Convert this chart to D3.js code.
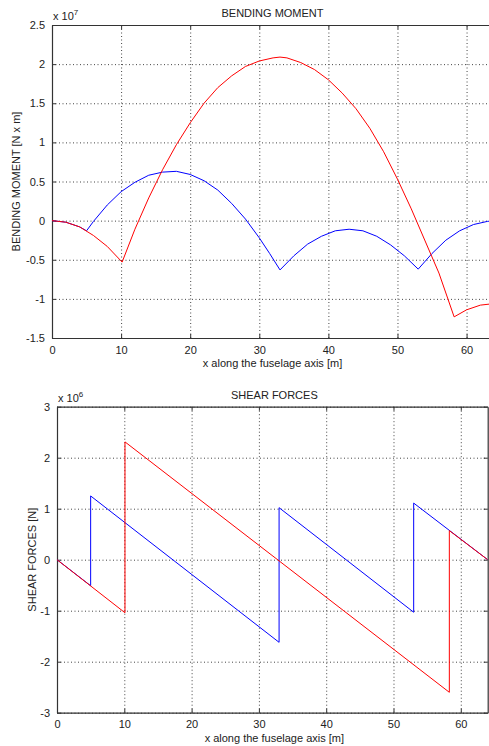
<html>
<head>
    <script src="https://d3js.org/d3.v7.min.js"></script>
    <style>
        body { margin: 0; background: white; }
        text { font-family: "Liberation Sans", Arial, sans-serif; fill: #222; }
        .grid line { stroke: #444; stroke-dasharray: 1,2.5; stroke-width: 1; }
        .grid .domain { stroke: none; }
        .ax .domain { stroke: #333; stroke-width: 1.2; }
        .ax line { stroke: #333; }
        .ax text { font-size: 11px; fill: #222; }
    </style>
</head>
<body>
    <svg id="plot" width="489" height="746"></svg>
    <script>
        // bending moment, x in m, value in 1e7 N x m
        const bendRed = [[0, 0], [2, -0.02], [4, -0.08], [6, -0.19], [8, -0.33], [10.15, -0.53], [12, -0.11],
            [14, 0.29], [16, 0.65], [18, 0.97], [20, 1.25], [22, 1.5], [24, 1.7], [26, 1.85], [28, 1.97], [30, 2.04],
            [32, 2.08], [33, 2.09], [34, 2.08], [36, 2.02], [38, 1.93], [40, 1.8], [42, 1.63], [44, 1.43], [46, 1.18],
            [48, 0.88], [50, 0.53], [52, 0.15], [54, -0.26], [56, -0.67], [58.2, -1.23], [60, -1.14], [62, -1.08],
            [64, -1.06]];
        const bendBlue = [[0, 0], [2, -0.02], [4, -0.08], [5, -0.13], [6, -0.01], [8, 0.2], [10, 0.37], [12, 0.49],
            [14, 0.58], [16, 0.62], [18, 0.63], [20, 0.59], [22, 0.51], [24, 0.39], [26, 0.22], [28, 0.02],
            [30, -0.22], [31.5, -0.42], [33, -0.63], [35, -0.45], [37, -0.3], [39, -0.2], [41, -0.13], [43, -0.11],
            [45, -0.13], [47, -0.2], [49, -0.31], [51, -0.45], [53, -0.62], [55, -0.42], [57, -0.25], [59, -0.13],
            [61, -0.05], [63, -0.01], [64, 0]];

        // shear forces, value in 1e6 N
        const shearRed = [[0, 0], [10.1, -1.04], [10.1, 2.31], [58.3, -2.6], [58.3, 0.57], [64, 0]];
        const shearBlue = [[0, 0], [5, -0.51], [5, 1.25], [33, -1.62], [33, 1.02], [53, -1.03], [53, 1.11], [64, 0]];

        const xTicks = [0, 10, 20, 30, 40, 50, 60];
        const bendTicks = [-1.5, -1, -0.5, 0, 0.5, 1, 1.5, 2, 2.5];
        const shearTicks = [-3, -2, -1, 0, 1, 2, 3];

        const svg = d3.select("#plot");

        function drawPanel(cfg) {
            const x = d3.scaleLinear().domain([0, 64]).range([cfg.left, cfg.right]);
            const y = d3.scaleLinear().domain(cfg.yDomain).range([cfg.bottom, cfg.top]);
            const w = cfg.right - cfg.left;
            const h = cfg.bottom - cfg.top;
            const g = svg.append("g");

            const clipId = "clip" + cfg.id;
            g.append("clipPath").attr("id", clipId).append("rect")
                .attr("x", cfg.left).attr("y", cfg.top).attr("width", w).attr("height", h);

            // dotted grid
            g.append("g").attr("class", "grid").attr("transform", `translate(0,${cfg.bottom})`)
                .call(d3.axisBottom(x).tickValues(xTicks.filter(d => d > 0)).tickSize(-h).tickFormat(""));
            g.append("g").attr("class", "grid").attr("transform", `translate(${cfg.left},0)`)
                .call(d3.axisLeft(y).tickValues(cfg.yTicks).tickSize(-w).tickFormat(""));

            const fmt = d => String(d);
            g.append("g").attr("class", "ax").attr("transform", `translate(0,${cfg.bottom})`)
                .call(d3.axisBottom(x).tickValues(xTicks).tickSizeInner(-4).tickSizeOuter(0).tickPadding(8).tickFormat(fmt));
            g.append("g").attr("class", "ax").attr("transform", `translate(0,${cfg.top})`)
                .call(d3.axisTop(x).tickValues(xTicks).tickSizeInner(-4).tickSizeOuter(0).tickFormat(""));
            g.append("g").attr("class", "ax").attr("transform", `translate(${cfg.left},0)`)
                .call(d3.axisLeft(y).tickValues(cfg.yTicks).tickSizeInner(-4).tickSizeOuter(0).tickPadding(7).tickFormat(fmt));
            g.append("g").attr("class", "ax").attr("transform", `translate(${cfg.right},0)`)
                .call(d3.axisRight(y).tickValues(cfg.yTicks).tickSizeInner(-4).tickSizeOuter(0).tickFormat(""));

            const line = d3.line().x(d => x(d[0])).y(d => y(d[1]));
            const lines = g.append("g").attr("clip-path", `url(#${clipId})`);
            lines.append("path").datum(cfg.blue).attr("d", line)
                .attr("fill", "none").attr("stroke", "#0000ff").attr("stroke-width", 1);
            lines.append("path").datum(cfg.red).attr("d", line)
                .attr("fill", "none").attr("stroke", "#ff0000").attr("stroke-width", 1);

            const cx = (cfg.left + Math.min(cfg.right, 489)) / 2 + 2;
            g.append("text").attr("x", cx).attr("y", cfg.top - 8)
                .attr("text-anchor", "middle").attr("font-size", "11px").text(cfg.title);
            g.append("text").attr("x", cx).attr("y", cfg.bottom + 29)
                .attr("text-anchor", "middle").attr("font-size", "11px").text("x along the fuselage axis [m]");
            g.append("text")
                .attr("transform", `translate(${cfg.yLabelX},${(cfg.top + cfg.bottom) / 2}) rotate(-90)`)
                .attr("text-anchor", "middle").attr("font-size", "11px").text(cfg.yLabel);

            const exp = g.append("text").attr("x", cfg.left + 1).attr("y", cfg.top - 5).attr("font-size", "11px");
            exp.append("tspan").text("x 10");
            exp.append("tspan").attr("dy", -5).attr("font-size", "8px").text(cfg.exp);
        }

        drawPanel({
            id: "bend", left: 52, right: 494.2, top: 25, bottom: 338,
            yDomain: [-1.5, 2.5], yTicks: bendTicks, red: bendRed, blue: bendBlue,
            title: "BENDING MOMENT", yLabel: "BENDING MOMENT [N x m]", yLabelX: 20, exp: "7"
        });

        drawPanel({
            id: "shear", left: 57, right: 487.7, top: 406.7, bottom: 712.7,
            yDomain: [-3, 3], yTicks: shearTicks, red: shearRed, blue: shearBlue,
            title: "SHEAR FORCES", yLabel: "SHEAR FORCES [N]", yLabelX: 36, exp: "6"
        });
    </script>
</body>
</html>
